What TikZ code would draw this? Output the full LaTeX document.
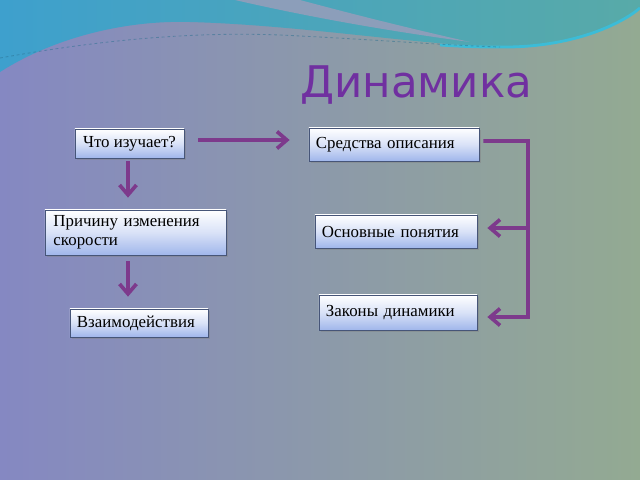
\documentclass[tikz,border=0pt]{standalone}
\usepackage{fontspec}
\setmainfont{Liberation Serif}
\newfontfamily\titlefont{DejaVu Sans}
\usetikzlibrary{calc,positioning,arrows.meta,shadows}
\definecolor{fonleft}{RGB}{133,136,194}
\definecolor{fonright}{RGB}{147,170,146}
\definecolor{waveleft}{RGB}{62,160,205}
\definecolor{waveright}{RGB}{88,170,168}
\definecolor{streak}{RGB}{140,158,186}
\definecolor{brightcyan}{RGB}{60,188,215}
\definecolor{ramka}{RGB}{70,85,120}
\definecolor{boxblue}{RGB}{160,182,235}
\definecolor{strcol}{RGB}{125,58,140}
\definecolor{titlecol}{RGB}{112,48,160}
\tikzset{
    tema/.style={draw=ramka, line width=0.5pt, top color=white, bottom color=boxblue,
    middle color=white!60!boxblue, align=left, inner sep=0pt,
    font=\fontsize{12}{13.5}\selectfont,
    drop shadow={opacity=0.4, shadow xshift=1.5pt, shadow yshift=-1.5pt}},
    strelka/.style={draw=strcol, line width=2.6pt,
    -{Straight Barb[length=7pt,width=12pt]}}
}
\begin{document}
\begin{tikzpicture}[x=0.025cm, y=-0.025cm]
  \useasboundingbox (0,0) rectangle (640,480);
  \shade[left color=fonleft, right color=fonright] (0,0) rectangle (640,480);
  % waves on top
  \shade[left color=waveleft, right color=waveright]
    (0,72) .. controls (50,40) and (120,20) .. (190,22)
    .. controls (300,25) and (420,45) .. (500,47)
    .. controls (570,48) and (620,25) .. (640,8) -- (640,0) -- (0,0) -- cycle;
  \fill[streak] (235,0) .. controls (300,15) and (380,30) .. (470,42)
    .. controls (390,24) and (330,8) .. (300,0) -- cycle;
  \draw[brightcyan, line width=2pt] (440,45) .. controls (470,47) and (485,47) .. (500,47)
    .. controls (570,48) and (620,25) .. (640,8);
  \draw[waveleft!70!black, opacity=0.5, line width=0.6pt, dash pattern=on 2pt off 2pt]
    (0,58) .. controls (100,40) and (200,30) .. (300,36) .. controls (380,40) and (440,45) .. (500,47);

  \node[titlecol, font=\titlefont\fontsize{31}{34}\selectfont, anchor=base west, inner sep=0pt] (title) at (300,97) {Динамика};

  \node[tema, minimum width=2.725cm, minimum height=0.725cm] (b1) at (129.5,143.5) {Что изучает?};
  \node[tema, minimum width=4.525cm, minimum height=1.125cm, text width=4.1cm] (b2) at (135.5,232.5) {Причину изменения\\скорости};
  \node[tema, minimum width=3.45cm, minimum height=0.7cm, text width=3.1cm] (b3) at (139,323) {Взаимодействия};

  \node[tema, minimum width=4.25cm, minimum height=0.825cm, text width=3.9cm] (r1) at (394,144.5) {Средства описания};
  \node[tema, minimum width=4.05cm, minimum height=0.825cm, text width=3.7cm] (r2) at (396,231.5) {Основные понятия};
  \node[tema, minimum width=3.95cm, minimum height=0.875cm, text width=3.6cm] (r3) at (398,312.5) {Законы динамики};

  \draw[strelka] ($(b1.east)+(14,-3.5)$) -- ($(r1.west)+(-19,-4.5)$);
  \draw[strelka] ($(b1.south)+(-1.5,3)$) -- ($(b2.north)+(-7.5,-12)$);
  \draw[strelka] ($(b2.south)+(-7.5,6)$) -- ($(b3.north)+(-11,-12)$);

  \coordinate (kn) at (528,317);
  \coordinate (jn) at (528,228);
  \draw[strelka] ($(r1.east)+(4,-3.5)$) -| (kn) -- ($(r3.east)+(10,4.5)$);
  \draw[strelka] (jn) -- ($(r2.east)+(10,-3.5)$);
\end{tikzpicture}
\end{document}
